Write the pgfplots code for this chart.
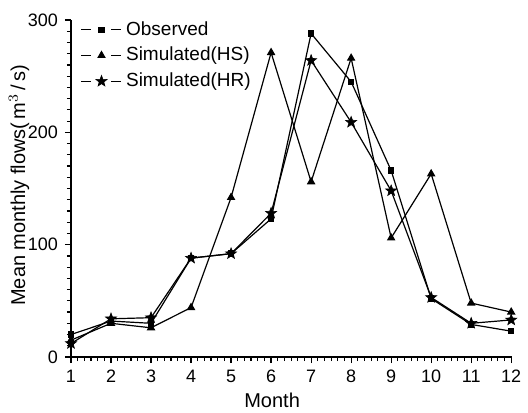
\documentclass[border=0pt]{standalone}
\usepackage{pgfplots}
\pgfplotsset{compat=1.18}
\usepackage{fontspec}
\setmainfont{Liberation Sans}
% filled five-pointed star
\pgfdeclareplotmark{fstar}{%
  \pgfpathmoveto{\pgfqpointpolar{90}{\pgfplotmarksize}}%
  \pgfpathlineto{\pgfqpointpolar{126}{0.42\pgfplotmarksize}}%
  \pgfpathlineto{\pgfqpointpolar{162}{\pgfplotmarksize}}%
  \pgfpathlineto{\pgfqpointpolar{198}{0.42\pgfplotmarksize}}%
  \pgfpathlineto{\pgfqpointpolar{234}{\pgfplotmarksize}}%
  \pgfpathlineto{\pgfqpointpolar{270}{0.42\pgfplotmarksize}}%
  \pgfpathlineto{\pgfqpointpolar{306}{\pgfplotmarksize}}%
  \pgfpathlineto{\pgfqpointpolar{342}{0.42\pgfplotmarksize}}%
  \pgfpathlineto{\pgfqpointpolar{18}{\pgfplotmarksize}}%
  \pgfpathlineto{\pgfqpointpolar{54}{0.42\pgfplotmarksize}}%
  \pgfpathclose
  \pgfusepathqfillstroke
}
\begin{document}
\begin{tikzpicture}
\begin{axis}[
    scale only axis,
    width=220.5pt,
    height=168.5pt,
    xmin=1, xmax=12.02,
    ymin=0, ymax=300,
    clip=false,
    axis x line*=bottom,
    axis y line*=left,
    axis line style={line width=0.8pt},
    xtick={1,...,12},
    ytick={0,100,200,300},
    minor x tick num=5,
    minor y tick num=9,
    tick align=outside,
    major tick length=3pt,
    minor tick length=2pt,
    tick style={black, line width=0.6pt},
    /pgf/number format/assume math mode=true,
    tick label style={font=\fontsize{9}{10}\selectfont},
    label style={font=\fontsize{10}{11}\selectfont},
    ylabel={Mean monthly flows(\,m$^{3}$\,/\,s)},
    ylabel style={at={(axis description cs:-0.118,0.51)}, anchor=center},
    legend style={draw=none, fill=none, at={(axis description cs:0.017,1.015)}, anchor=north west,
        font=\fontsize{9.5}{10}\selectfont, row sep=0.5pt, inner sep=1pt},
    legend cell align=left,
    legend image code/.code={
        \draw[#1, mark=none] (0pt,0pt) -- (5pt,0pt);
        \draw[#1, mark=none] (15pt,0pt) -- (20pt,0pt);
        \draw[#1, only marks] plot coordinates {(10pt,0pt)};
    },
    every axis plot/.append style={black, line width=0.6pt},
]
\addplot[mark=square*, mark size=1.3pt] coordinates {
(1,20) (2,32) (3,30) (4,88) (5,92) (6,123) (7,288) (8,245) (9,166) (10,52) (11,29) (12,23)};
\addlegendentry{Observed}
\addplot[mark=triangle*, mark size=1.9pt] coordinates {
(1,15) (2,30) (3,26) (4,44) (5,142) (6,271) (7,156) (8,266) (9,106) (10,163) (11,48) (12,40)};
\addlegendentry{Simulated(HS)}
\addplot[mark=fstar, mark size=2.9pt, mark options={fill=black, line width=0.3pt}] coordinates {
(1,12) (2,34) (3,35) (4,88) (5,92) (6,128) (7,264) (8,209) (9,148) (10,53) (11,30) (12,33)};
\addlegendentry{Simulated(HR)}
\node[font=\fontsize{10}{11}\selectfont] at (rel axis cs:0.456,-0.128) {Month};
\coordinate (bl) at (rel axis cs:0,0);
\coordinate (tr) at (rel axis cs:1,1);
\end{axis}
\pgfresetboundingbox
\path ([shift={(-35.5pt,-27.5pt)}]bl) rectangle ([shift={(8pt,10pt)}]tr);
\end{tikzpicture}
\end{document}
